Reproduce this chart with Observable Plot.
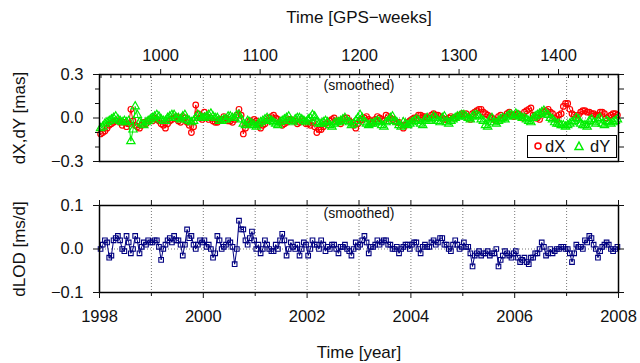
<!DOCTYPE html>
<html><head><meta charset="utf-8">
<script src="https://cdn.jsdelivr.net/npm/d3@7"></script>
<script src="https://cdn.jsdelivr.net/npm/@observablehq/plot@0.6"></script>
<style>
body{margin:0;background:#fff;}
#root{position:relative;width:640px;height:363px;overflow:hidden;font-family:"Liberation Sans",Arial,sans-serif;}
#root svg.plot{position:absolute;left:0;overflow:visible}
#legend{position:absolute;left:527px;top:135px;width:90px;height:23px;border:1.5px solid #000;background:#fff;box-sizing:border-box;font-size:16.5px;color:#111;}
#legend span{position:absolute;top:1px;}
#legend svg{position:absolute;top:4px;}
</style></head><body><div id="root"></div>
<script>
// ---- data (semi-monthly samples, Jan 1998 .. Dec 2007) ----
const startYear = 1998;
const perYear = 24;
const dX = [
 -0.11,-0.10,-0.09,-0.07,-0.05,-0.04,-0.03,-0.02,-0.02,-0.03,-0.05,-0.03,-0.06,-0.04, 0.06,-0.02,-0.05,-0.06,-0.07,-0.05,-0.03,-0.04,-0.02,-0.01,
 -0.02, 0.00,-0.01,-0.02,-0.04,-0.05,-0.07,-0.04,-0.02,-0.01, 0.00, 0.01,-0.02,-0.03, 0.01, 0.00,-0.03,-0.05,-0.10,-0.06, 0.09, 0.03, 0.00,-0.01,
  0.04, 0.01,-0.01, 0.00,-0.02,-0.03,-0.03,-0.01,-0.01, 0.01, 0.00,-0.02,-0.02,-0.03,-0.01, 0.02, 0.06, 0.02,-0.11,-0.07,-0.04,-0.02,-0.03,-0.01,
 -0.02,-0.04,-0.07,-0.05,-0.04,-0.02, 0.00, 0.01, 0.02, 0.00,-0.01,-0.03,-0.05,-0.04,-0.03,-0.01,-0.01,-0.02,-0.02,-0.04,-0.03,-0.01,-0.02,-0.04,
 -0.04,-0.05,-0.03,-0.06,-0.10,-0.08,-0.08,-0.06,-0.04,-0.03,-0.02,-0.01, 0.00,-0.02,-0.02,-0.04,-0.01, 0.00, 0.00,-0.02,-0.03,-0.05,-0.07,-0.04,
 -0.02,-0.01, 0.00, 0.01,-0.01,-0.02,-0.03,-0.01, 0.01, 0.00,-0.01,-0.02, 0.02, 0.01, 0.00,-0.01,-0.02,-0.03,-0.03,-0.05,-0.07,-0.05,-0.03,-0.02,
 -0.01, 0.00, 0.00, 0.02, 0.02, 0.01, 0.01, 0.00, 0.00, 0.02, 0.03, 0.02, 0.02, 0.01, 0.00,-0.01,-0.01, 0.00, 0.01, 0.00, 0.00, 0.01, 0.02, 0.03,
  0.02, 0.03, 0.00,-0.01, 0.03, 0.04, 0.05, 0.06, 0.06, 0.04, 0.03, 0.02, 0.01, 0.00,-0.01,-0.02, 0.01, 0.02, 0.00, 0.01, 0.03, 0.04, 0.02, 0.01,
  0.02, 0.03, 0.01, 0.00, 0.04, 0.05, 0.06, 0.07, 0.02, 0.00, 0.00,-0.01, 0.03, 0.04, 0.05, 0.06, 0.04, 0.03, 0.00,-0.01, 0.02, 0.03, 0.08, 0.10,
  0.10, 0.06, 0.03, 0.02, 0.00, 0.02, 0.04, 0.05, 0.05, 0.04, 0.04, 0.03, 0.03, 0.02, 0.02, 0.04, 0.04, 0.03, 0.00, 0.01, 0.02, 0.03, 0.03, 0.02
];
const dY = [
 -0.07,-0.06,-0.04,-0.03,-0.02,-0.01, 0.00, 0.01,-0.01,-0.02,-0.03,-0.02,-0.03,-0.02,-0.16,-0.08, 0.08, 0.02,-0.03,-0.04,-0.05,-0.03,-0.02,-0.01,
  0.00, 0.01, 0.02, 0.01,-0.01,-0.02,-0.02, 0.00, 0.01, 0.02, 0.02, 0.00, 0.00,-0.01, 0.01, 0.02,-0.01,-0.02,-0.03,-0.02, 0.00, 0.02, 0.01, 0.00,
  0.00, 0.01, 0.02, 0.03, 0.01, 0.00, 0.00,-0.02,-0.02,-0.01,-0.01, 0.01, 0.01, 0.00, 0.00, 0.02, 0.02,-0.01,-0.04,-0.05,-0.02,-0.03,-0.04,-0.05,
 -0.06,-0.04,-0.03,-0.02,-0.01, 0.00,-0.01,-0.02,-0.03,-0.04,-0.05,-0.03,-0.02,-0.01, 0.00, 0.01,-0.02,-0.03,-0.01, 0.00, 0.00,-0.01,-0.02,-0.03,
 -0.01, 0.00, 0.02, 0.01,-0.03,-0.04,-0.04,-0.03,-0.02,-0.03,-0.05,-0.06,-0.04,-0.03,-0.03,-0.02,-0.01, 0.00,-0.02,-0.03,-0.05,-0.04,-0.02, 0.00,
  0.02, 0.00,-0.03,-0.04,-0.05,-0.04,-0.04,-0.03,-0.02,-0.03,-0.05,-0.06,-0.03,-0.02, 0.00, 0.01,-0.02,-0.03,-0.05,-0.06,-0.03,-0.04,-0.05,-0.04,
 -0.03,-0.02,-0.01,-0.02,-0.04,-0.05,-0.01, 0.00,-0.02,-0.01, 0.01, 0.00,-0.02,-0.03, 0.00, 0.01,-0.03,-0.04,-0.02,-0.01, 0.00, 0.01, 0.01, 0.02,
  0.02, 0.01, 0.00,-0.01, 0.01, 0.02, 0.02, 0.01,-0.01,-0.02,-0.05,-0.06,-0.01, 0.00,-0.03,-0.04,-0.02,-0.01, 0.00,-0.01, 0.01, 0.02, 0.02, 0.01,
  0.03, 0.02, 0.01, 0.00, 0.00,-0.01,-0.02,-0.03, 0.00, 0.01, 0.02, 0.03, 0.04, 0.05, 0.03, 0.02, 0.00,-0.01,-0.03,-0.04,-0.04,-0.05,-0.05,-0.06,
 -0.05,-0.04,-0.03,-0.02, 0.00,-0.01,-0.04,-0.05,-0.05,-0.06,-0.02,-0.01,-0.03,-0.04,-0.01, 0.00,-0.04,-0.05,-0.02,-0.03,-0.04,-0.03,-0.02,-0.01
];
const dLOD = [
  0.000, 0.010, 0.020, 0.015,-0.020,-0.015, 0.020, 0.025, 0.030, 0.020, 0.000,-0.005, 0.030, 0.015,-0.010, 0.000, 0.030, 0.020,-0.010, 0.005, 0.015, 0.010, 0.020, 0.015,
  0.015, 0.020, 0.020, 0.005,-0.025, 0.000, 0.010, 0.020, 0.025, 0.015, 0.030, 0.020, 0.020, 0.010,-0.015, 0.010, 0.045, 0.025, 0.030, 0.010, 0.000, 0.010, 0.020, 0.015,
  0.020, 0.005, 0.010, 0.000,-0.020,-0.010, 0.030, 0.020, 0.000, 0.005, 0.010, 0.020, 0.015, 0.005,-0.035, 0.000, 0.065, 0.045, 0.045, 0.020, 0.010, 0.025, 0.040, 0.020,
  0.000, 0.010,-0.010, 0.000, 0.020, 0.010, 0.000,-0.005,-0.005, 0.010, 0.000, 0.020, 0.035, 0.020,-0.015, 0.000, 0.015, 0.005, 0.000, 0.010,-0.015, 0.000, 0.015, 0.010,
 -0.015, 0.000, 0.020, 0.010, 0.010, 0.000, 0.020, 0.010,-0.005, 0.005, 0.000, 0.010, 0.010, 0.000,-0.010, 0.005, 0.005, 0.010, 0.000,-0.005,-0.015, 0.000, 0.015, 0.005,
  0.010, 0.020, 0.030, 0.015,-0.010, 0.005, 0.005, 0.010, 0.020, 0.010, 0.015, 0.020, 0.020, 0.010, 0.010, 0.000, 0.000, 0.005,-0.010, 0.000, 0.005, 0.010, 0.010, 0.000,
  0.010, 0.015, 0.015, 0.000,-0.010, 0.005, 0.010, 0.005, 0.005, 0.015, 0.020, 0.010, 0.015, 0.025, 0.025, 0.010, 0.010, 0.000,-0.005, 0.010, 0.020, 0.010, 0.000, 0.005,
  0.015, 0.005, 0.005,-0.010,-0.040,-0.015,-0.010,-0.005,-0.015,-0.010,-0.010,-0.005,-0.015,-0.010,-0.010, 0.000,-0.040,-0.025,-0.015,-0.005,-0.010,-0.015,-0.020,-0.010,
 -0.005,-0.020,-0.030,-0.025,-0.020,-0.030,-0.035,-0.020,-0.020,-0.010,-0.010, 0.000, 0.015, 0.005,-0.015,-0.010, 0.000,-0.010,-0.005, 0.000, 0.000, 0.005, 0.005, 0.000,
  0.000,-0.010,-0.030,-0.010, 0.010, 0.005, 0.005, 0.000, 0.020, 0.015, 0.030, 0.025, 0.010, 0.000,-0.020,-0.005, 0.005, 0.010, 0.015, 0.010, 0.000,-0.005, 0.000, 0.005
];
const yearLabels = [1998, 2000, 2002, 2004, 2006, 2008];
const yearMinor = [1999, 2001, 2003, 2005, 2007];
const gridYears = [1999, 2000, 2001, 2002, 2003, 2004, 2005, 2006, 2007];
const weekLabels = [1000, 1100, 1200, 1300, 1400];
const yTopMajor = [-0.3, 0.0, 0.3];
const yTopMinor = [-0.2, -0.1, 0.1, 0.2];
const yBotMajor = [-0.1, 0.0, 0.1];

// ---- helpers ----
const weekToYear = w => 1980 + (5 + 7 * w) / 365.25; // GPS week -> decimal year
const weekMinor = d3.range(940, 1461, 10).filter(w => !weekLabels.includes(w));
const weekLabelYears = weekLabels.map(weekToYear);
const weekLabelMap = new Map(weekLabelYears.map((y, i) => [y, String(weekLabels[i])]));

const pole = dX.map((v, i) => ({t: startYear + (i + 0.5) / perYear, dX: v, dY: dY[i]}));
const lod = dLOD.map((v, i) => ({t: startYear + (i + 0.5) / perYear, v}));

const FONT = '"Liberation Sans", Arial, sans-serif';
const style = {fontFamily: FONT, fontSize: "16.5px", color: "#111", background: "transparent", overflow: "visible"};
const grid = {stroke: "#777", strokeDasharray: "1,2", strokeWidth: 1};
const none = () => "";
const lbl = {text: d => d, textAnchor: "middle", lineAnchor: "middle", fontWeight: "normal", fill: "#111"};

const p1 = Plot.plot({
  width: 640, height: 175,
  marginTop: 74, marginBottom: 14, marginLeft: 99, marginRight: 22,
  x: {domain: [1998, 2008]},
  y: {domain: [-0.3, 0.3]},
  style,
  marks: [
    Plot.ruleX(gridYears, grid),
    Plot.ruleY([0], grid),
    Plot.line(pole, {x: "t", y: "dX", stroke: "#ff0000", strokeWidth: 1}),
    Plot.dot(pole, {x: "t", y: "dX", stroke: "#ff0000", fill: "none", r: 2.8, strokeWidth: 1.2, symbol: "circle"}),
    Plot.line(pole, {x: "t", y: "dY", stroke: "#00ee00", strokeWidth: 1}),
    Plot.dot(pole, {x: "t", y: "dY", stroke: "#00ee00", fill: "none", r: 3.1, strokeWidth: 1.2, symbol: "triangle"}),
    Plot.frame({stroke: "black", strokeWidth: 1.5}),
    Plot.axisX(weekLabelYears, {anchor: "top", tickSize: 6, tickPadding: 8, tickFormat: d => weekLabelMap.get(d), label: null, fontSize: 16.5}),
    Plot.axisX(weekMinor.map(weekToYear), {anchor: "top", tickSize: -3, tickFormat: none, label: null}),
    Plot.axisY(yTopMajor, {anchor: "left", tickSize: 6, tickPadding: 10, tickFormat: d3.format(".1f"), label: null, fontSize: 16.5}),
    Plot.axisY(yTopMinor, {anchor: "left", tickSize: 4, tickFormat: none, label: null}),
    Plot.axisY(yTopMajor.concat(yTopMinor), {anchor: "right", tickSize: 5, tickFormat: none, label: null}),
    Plot.text(["Time [GPS\u2212weeks]"], {...lbl, frameAnchor: "top", dy: -57, fontSize: 17}),
    Plot.text(["(smoothed)"], {...lbl, frameAnchor: "top", dy: 11, fontSize: 14}),
    Plot.text(["dX,dY [mas]"], {...lbl, frameAnchor: "left", dx: -80, rotate: -90, fontSize: 17})
  ]
});

const p2 = Plot.plot({
  width: 640, height: 188,
  marginTop: 30, marginBottom: 71, marginLeft: 99, marginRight: 22,
  x: {domain: [1998, 2008]},
  y: {domain: [-0.1, 0.1]},
  style,
  marks: [
    Plot.ruleX(gridYears, grid),
    Plot.ruleY([0], grid),
    Plot.line(lod, {x: "t", y: "v", stroke: "#000080", strokeWidth: 1}),
    Plot.dot(lod, {x: "t", y: "v", stroke: "#000080", fill: "none", r: 2.6, strokeWidth: 1.1, symbol: "square"}),
    Plot.frame({stroke: "black", strokeWidth: 1.5}),
    Plot.axisX(yearLabels, {anchor: "bottom", tickSize: 6, tickPadding: 12, tickFormat: d => `${d}`, label: null, fontSize: 16.5}),
    Plot.axisX(yearMinor, {anchor: "bottom", tickSize: 4, tickFormat: none, label: null}),
    Plot.axisX(yearLabels.concat(yearMinor), {anchor: "top", tickSize: 6, tickFormat: none, label: null}),
    Plot.axisY(yBotMajor, {anchor: "left", tickSize: 6, tickPadding: 10, tickFormat: d3.format(".1f"), label: null, fontSize: 16.5}),
    Plot.axisY(yBotMajor, {anchor: "right", tickSize: 5, tickFormat: none, label: null}),
    Plot.text(["Time [year]"], {...lbl, frameAnchor: "bottom", dy: 60, fontSize: 17}),
    Plot.text(["(smoothed)"], {...lbl, frameAnchor: "top", dy: 8, fontSize: 14}),
    Plot.text(["dLOD [ms/d]"], {...lbl, frameAnchor: "left", dx: -80, rotate: -90, fontSize: 17})
  ]
});

const root = document.getElementById("root");
p1.classList.add("plot"); p2.classList.add("plot");
p1.style.top = "0px"; p2.style.top = "175px";
root.appendChild(p1); root.appendChild(p2);

const legend = document.createElement("div");
legend.id = "legend";
legend.innerHTML =
  '<svg width="12" height="12" style="left:4px"><circle cx="6" cy="6" r="3" fill="none" stroke="#ff0000" stroke-width="1.5"/></svg>' +
  '<span style="left:17px">dX</span>' +
  '<svg width="12" height="12" style="left:45px"><path d="M6,2L10,9.5L2,9.5Z" fill="none" stroke="#00ee00" stroke-width="1.5"/></svg>' +
  '<span style="left:62px">dY</span>';
root.appendChild(legend);
</script>
</body></html>
